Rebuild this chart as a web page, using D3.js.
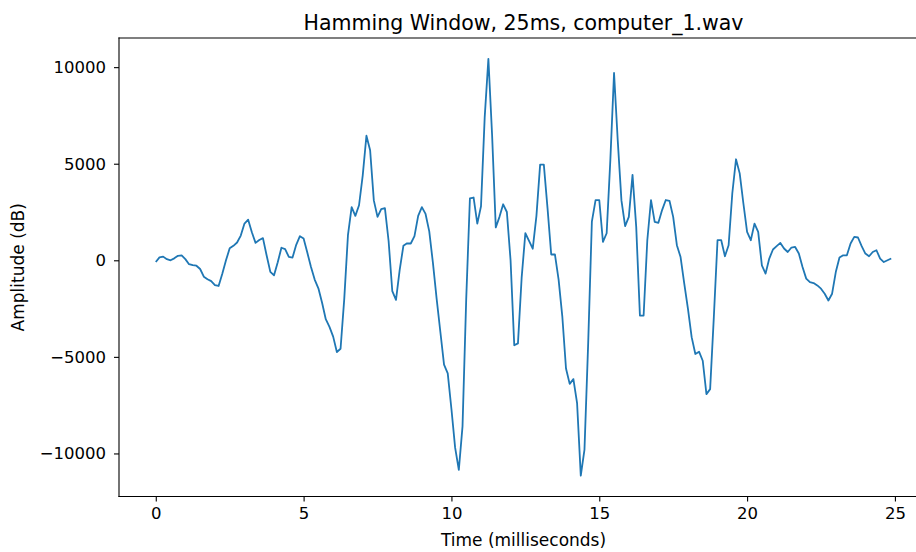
<!DOCTYPE html>
<html>
<head>
<meta charset="utf-8">
<script src="https://cdnjs.cloudflare.com/ajax/libs/d3/7.8.5/d3.min.js"></script>
<style>
  body { margin: 0; background: #fff; overflow: hidden; }
  svg { display: block; font-family: "DejaVu Sans", sans-serif; }
</style>
</head>
<body>
<svg id="chart" width="916" height="552"></svg>
<script>
const title = 'Hamming Window, 25ms, computer_1.wav'
const xLabel = 'Time (milliseconds)'
const yLabel = 'Amplitude (dB)'
const sampleMs = 0.125 // 8 kHz -> one sample every 0.125 ms
const xTicks = [0, 5, 10, 15, 20, 25]
const yTicks = [-10000, -5000, 0, 5000, 10000]

// windowed samples
const amplitude = [
  -90, 150, 190, 60, 0, 100, 230, 250, 60, -200,
  -250, -280, -450, -850, -980, -1080, -1280, -1330, -700, 0,
  620, 750, 920, 1280, 1900, 2100, 1450, 900, 1050, 1150,
  250, -600, -780, -100, 650, 580, 180, 140, 800, 1250,
  1130, 400, -350, -1000, -1450, -2200, -3050, -3450, -3950, -4750,
  -4580, -2000, 1300, 2750, 2300, 2850, 4400, 6450, 5700, 3100,
  2250, 2650, 2700, 1000, -1600, -2050, -500, 750, 880, 870,
  1250, 2300, 2750, 2400, 1500, -150, -2000, -3700, -5400, -5850,
  -7700, -9700, -10850, -8600, -2000, 3200, 3250, 1900, 2800, 7400,
  10430, 6500, 1700, 2250, 2900, 2500, 0, -4400, -4300, -900,
  1400, 1000, 600, 2300, 4950, 4950, 2700, 300, 310, -1000,
  -2900, -5600, -6400, -6150, -7400, -11150, -9800, -4300, 2000, 3120,
  3120, 950, 1400, 5200, 9700, 6200, 3100, 1770, 2250, 4420,
  1730, -2860, -2860, 1040, 3120, 1990, 1940, 2600, 3120, 3080,
  2250, 780, 170, -1210, -2510, -3980, -4850, -4730, -5200, -6930,
  -6670, -2940, 1040, 1040, 210, 780, 3470, 5230, 4500, 2940,
  1470, 1040, 1900, 1470, -260, -690, 90, 560, 730, 900,
  610, 430, 660, 690, 350, -350, -950, -1130, -1180, -1300,
  -1470, -1730, -2080, -1730, -610, 140, 260, 260, 870, 1210,
  1180, 730, 350, 210, 430, 520, 90, -90, 0, 90
]

const data = amplitude.map((v, i) => ({ t: i * sampleMs, v }))

const svg = d3.select('#chart')
const plotLeft = 119, plotRight = 928, plotTop = 38, plotBottom = 496.5

const tExt = d3.extent(data, d => d.t)
const tPad = (tExt[1] - tExt[0]) * 0.05
const x = d3.scaleLinear().domain([tExt[0] - tPad, tExt[1] + tPad]).range([plotLeft, plotRight])

const vExt = d3.extent(amplitude)
const vPad = (vExt[1] - vExt[0]) * 0.05
const y = d3.scaleLinear().domain([vExt[0] - vPad, vExt[1] + vPad]).range([plotBottom, plotTop])

// the signal
svg.append('path')
  .datum(data)
  .attr('fill', 'none')
  .attr('stroke', '#1f77b4')
  .attr('stroke-width', 1.8)
  .attr('stroke-linejoin', 'round')
  .attr('d', d3.line().x(d => x(d.t)).y(d => y(d.v)))

// axes
const xAxis = svg.append('g')
  .attr('transform', `translate(0,${plotBottom})`)
  .call(d3.axisBottom(x).tickValues(xTicks).tickSize(5).tickPadding(6).tickFormat(d3.format('d')))
const yAxis = svg.append('g')
  .attr('transform', `translate(${plotLeft},0)`)
  .call(d3.axisLeft(y).tickValues(yTicks).tickSize(5).tickPadding(8).tickFormat(d3.format('d')))

for (const g of [xAxis, yAxis]) {
  g.select('.domain').remove()
  g.selectAll('.tick line').attr('stroke', '#000').attr('stroke-width', 1.1)
  g.selectAll('.tick text')
    .attr('fill', '#000')
    .attr('font-family', '"DejaVu Sans", sans-serif')
    .attr('font-size', 16.5)
}

// spines (the right one falls outside the picture)
const spines = [
  [plotLeft, plotTop, plotRight, plotTop],
  [plotLeft, plotBottom, plotRight, plotBottom],
  [plotLeft, plotTop, plotLeft, plotBottom]
]
svg.selectAll('.spine')
  .data(spines)
  .join('line')
  .attr('class', 'spine')
  .attr('x1', d => d[0]).attr('y1', d => d[1])
  .attr('x2', d => d[2]).attr('y2', d => d[3])
  .attr('stroke', '#000').attr('stroke-width', 1.1)
  .attr('stroke-linecap', 'square')

svg.append('text')
  .attr('x', (plotLeft + plotRight) / 2).attr('y', 30)
  .attr('text-anchor', 'middle')
  .attr('font-size', 20.5)
  .text(title)

svg.append('text')
  .attr('x', (plotLeft + plotRight) / 2).attr('y', 546)
  .attr('text-anchor', 'middle')
  .attr('font-size', 17)
  .text(xLabel)

svg.append('text')
  .attr('transform', `translate(24,${(plotTop + plotBottom) / 2}) rotate(-90)`)
  .attr('text-anchor', 'middle')
  .attr('font-size', 17)
  .text(yLabel)
</script>
</body>
</html>
